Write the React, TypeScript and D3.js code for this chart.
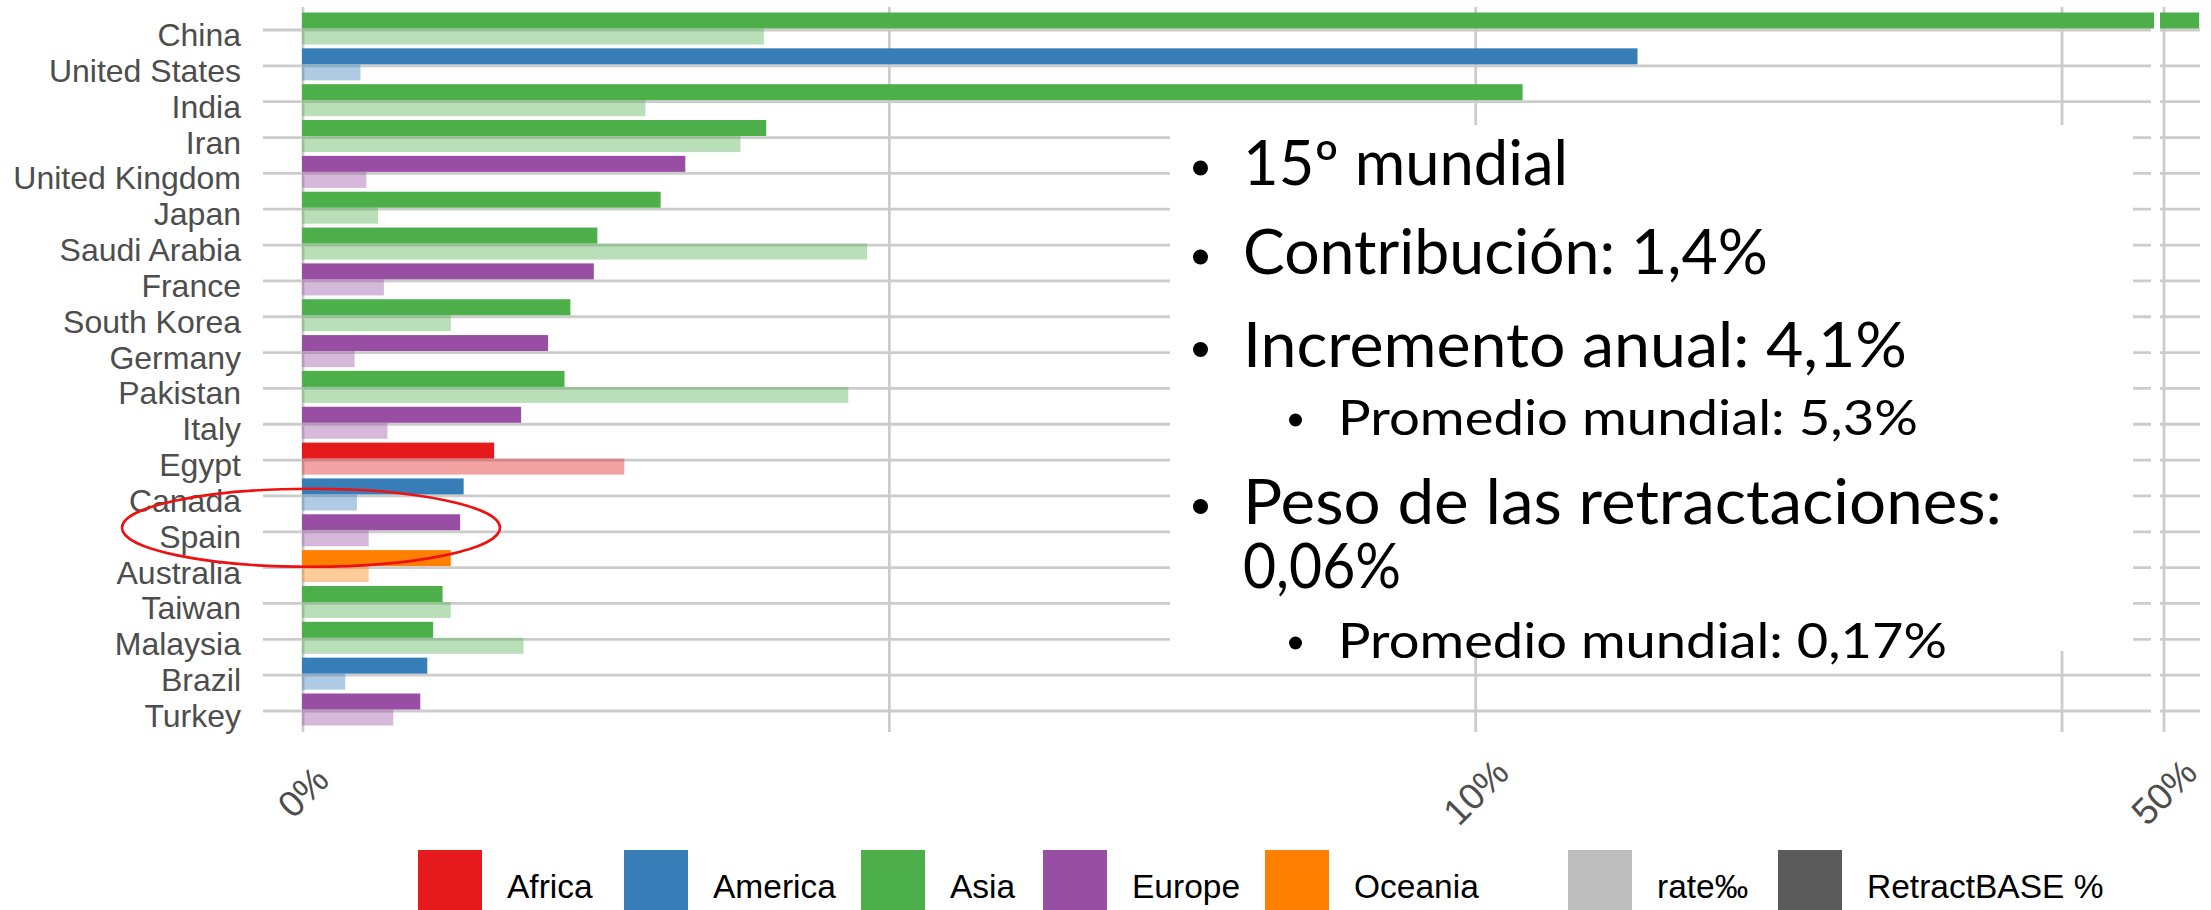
import { useEffect, useRef } from 'react';
import * as d3 from 'd3';

// countries, top to bottom
const countries = [
  'China', 'United States', 'India', 'Iran', 'United Kingdom', 'Japan', 'Saudi Arabia',
  'France', 'South Korea', 'Germany', 'Pakistan', 'Italy', 'Egypt', 'Canada', 'Spain',
  'Australia', 'Taiwan', 'Malaysia', 'Brazil', 'Turkey',
];
const continents = [
  'Asia', 'America', 'Asia', 'Asia', 'Europe', 'Asia', 'Asia',
  'Europe', 'Asia', 'Europe', 'Asia', 'Europe', 'Africa', 'America', 'Europe',
  'Oceania', 'Asia', 'Asia', 'America', 'Europe',
];
// RetractBASE % (dark bars)
const retractBase = [
  50.3, 11.38, 10.4, 3.95, 3.26, 3.05, 2.51,
  2.48, 2.28, 2.09, 2.23, 1.86, 1.63, 1.37, 1.34,
  1.26, 1.19, 1.11, 1.06, 1.0,
];
// rate‰ (light bars)
const ratePermil = [
  3.93, 0.49, 2.92, 3.73, 0.54, 0.64, 4.81,
  0.69, 1.26, 0.44, 4.65, 0.72, 2.74, 0.46, 0.56,
  0.56, 1.26, 1.88, 0.36, 0.77,
];
const majorTicks = [0, 10];
const minorTicks = [5, 15];
const brokenTick = 50;

const regionNames = ['Africa', 'America', 'Asia', 'Europe', 'Oceania'];
const regionColors = ['#E41A1C', '#377EB8', '#4DAF4A', '#984EA3', '#FF7F00'];
const measureNames = ['rate‰', 'RetractBASE %'];
const measureColors = ['#BDBDBD', '#5A5A5A'];

// bullet notes; a note may wrap onto several lines
const notes = [
  ['15º mundial'],
  ['Contribución: 1,4%'],
  ['Incremento anual: 4,1%'],
  ['Promedio mundial: 5,3%'],
  ['Peso de las retractaciones:', '0,06%'],
  ['Promedio mundial: 0,17%'],
];
const noteLevels = [0, 0, 0, 1, 0, 1];

// layout (pixels)
const noteBaselines = [[185], [274], [366.5], [435], [523.5, 588], [658]];
const noteWidths = [[325], [525], [664], [580], [759, 158], [609]];
const legendKeyX = [418, 624, 861, 1043, 1265];
const measureKeyX = [1568, 1778];

const App = () => {
  const ref = useRef<SVGSVGElement>(null);

  useEffect(() => {
    const svg = d3.select(ref.current);
    svg.selectAll('*').remove();

    const grid = '#CCCCCC';
    const x = d3.scaleLinear().domain([0, 10]).range([303, 1475.7]);
    const pxPerUnit = x(1) - x(0);
    const xBroken = d3.scaleLinear().domain([50, 51]).range([2164, 2164 + pxPerUnit]);
    const y = d3.scalePoint<string>().domain(countries).range([30, 711]);
    const color = d3.scaleOrdinal<string, string>().domain(regionNames).range(regionColors);

    const rows = countries.map((c, i) => ({
      country: c,
      region: continents[i],
      retract: retractBase[i],
      rate: ratePermil[i],
    }));

    const defs = svg.append('defs');
    defs.append('clipPath').attr('id', 'clip-left')
      .append('rect').attr('x', 263).attr('y', 0).attr('width', 2154 - 263).attr('height', 740);
    defs.append('clipPath').attr('id', 'clip-right')
      .append('rect').attr('x', 2160).attr('y', 0).attr('width', 40).attr('height', 740);

    svg.append('rect').attr('width', 2211).attr('height', 910).attr('fill', '#fff');

    // horizontal grid lines (broken axis leaves a small gap)
    const hGrid = svg.append('g').attr('stroke', grid).attr('stroke-width', 2.8);
    rows.forEach((d) => {
      hGrid.append('line').attr('x1', 263).attr('x2', 2151).attr('y1', y(d.country)!).attr('y2', y(d.country)!);
      hGrid.append('line').attr('x1', 2160).attr('x2', 2200).attr('y1', y(d.country)!).attr('y2', y(d.country)!);
    });
    // vertical grid lines
    const vGrid = svg.append('g').attr('stroke', grid).attr('stroke-width', 2.8);
    [...majorTicks, ...minorTicks].forEach((t) => {
      vGrid.append('line').attr('x1', x(t)).attr('x2', x(t)).attr('y1', 7).attr('y2', 732);
    });
    vGrid.append('line').attr('x1', xBroken(brokenTick)).attr('x2', xBroken(brokenTick)).attr('y1', 7).attr('y2', 732);

    const barH = 16;
    const left = svg.append('g').attr('clip-path', 'url(#clip-left)');
    left.selectAll('rect.retract')
      .data(rows)
      .enter()
      .append('rect')
      .attr('class', 'retract')
      .attr('x', x(0) - 1)
      .attr('y', (d) => y(d.country)! - 1.5 - barH)
      .attr('width', (d) => x(d.retract) - x(0) + 1)
      .attr('height', barH)
      .attr('fill', (d) => color(d.region));
    left.selectAll('rect.rate')
      .data(rows)
      .enter()
      .append('rect')
      .attr('class', 'rate')
      .attr('x', x(0) - 1)
      .attr('y', (d) => y(d.country)! - 1.5)
      .attr('width', (d) => x(d.rate) - x(0) + 1)
      .attr('height', barH)
      .attr('fill', (d) => color(d.region))
      .attr('fill-opacity', 0.4);

    // the part of very long bars beyond the axis break
    svg.append('g').attr('clip-path', 'url(#clip-right)')
      .selectAll('rect')
      .data(rows.filter((d) => d.retract > brokenTick))
      .enter()
      .append('rect')
      .attr('x', 2160)
      .attr('y', (d) => y(d.country)! - 1.5 - barH)
      .attr('width', (d) => xBroken(d.retract) - 2160)
      .attr('height', barH)
      .attr('fill', (d) => color(d.region));

    // y axis labels
    svg.append('g')
      .selectAll('text')
      .data(rows)
      .enter()
      .append('text')
      .attr('x', 241)
      .attr('y', (d) => y(d.country)! + 16)
      .attr('text-anchor', 'end')
      .style('font-family', '"Liberation Sans", Arial, sans-serif')
      .style('font-size', '32px')
      .attr('fill', '#4D4D4D')
      .text((d) => d.country);

    // x tick labels, rotated
    const pct = (v: number) => d3.format('.0%')(v / 100);
    const tickPos = [...majorTicks.map((t) => ({ t, px: x(t) })), { t: brokenTick, px: xBroken(brokenTick) }];
    svg.append('g')
      .selectAll('text')
      .data(tickPos)
      .enter()
      .append('text')
      .attr('transform', (d) => `translate(${d.px},792) rotate(-45)`)
      .attr('text-anchor', 'middle')
      .attr('dy', '0.35em')
      .style('font-family', '"Liberation Sans", Arial, sans-serif')
      .style('font-size', '37px')
      .attr('fill', '#4D4D4D')
      .text((d) => pct(d.t));

    // legend
    const legend = svg.append('g')
      .style('font-family', '"Liberation Sans", Arial, sans-serif')
      .style('font-size', '33.5px');
    const legendItems = [
      ...regionNames.map((n, i) => ({ name: n, fill: regionColors[i], kx: legendKeyX[i] })),
      ...measureNames.map((n, i) => ({ name: n, fill: measureColors[i], kx: measureKeyX[i] })),
    ];
    legendItems.forEach((d) => {
      legend.append('rect').attr('x', d.kx).attr('y', 850).attr('width', 64).attr('height', 64).attr('fill', d.fill);
      legend.append('text').attr('x', d.kx + 89).attr('y', 898).attr('fill', '#000').text(d.name);
    });

    // annotation box pasted over the chart
    svg.append('rect').attr('x', 1170).attr('y', 125).attr('width', 963).attr('height', 526).attr('fill', '#fff');
    const note = svg.append('g').style('font-family', 'Lato, "Open Sans", sans-serif').attr('fill', '#000');
    notes.forEach((lines, i) => {
      const sub = noteLevels[i] === 1;
      const size = sub ? 48 : 61;
      const tx = sub ? 1338 : 1243;
      const bases = noteBaselines[i];
      note.append('circle')
        .attr('cx', sub ? 1295.5 : 1200.5)
        .attr('cy', bases[0] - (sub ? 15 : 17))
        .attr('r', sub ? 6.5 : 7.5);
      const t = note.append('text').style('font-size', `${size}px`);
      lines.forEach((ln, j) => {
        t.append('tspan')
          .attr('x', tx)
          .attr('y', bases[j])
          .attr('textLength', noteWidths[i][j])
          .attr('lengthAdjust', 'spacingAndGlyphs')
          .text(ln);
      });
    });

    // red ellipse highlighting Spain
    svg.append('ellipse')
      .attr('cx', 311)
      .attr('cy', y('Spain')! - 4)
      .attr('rx', 189)
      .attr('ry', 39)
      .attr('fill', 'none')
      .attr('stroke', '#EE1111')
      .attr('stroke-width', 2.6);
  }, []);

  return (
    <div style={{ position: 'absolute', left: 0, top: 0, width: 2211, height: 910, overflow: 'hidden' }}>
      <svg ref={ref} width={2211} height={910} style={{ display: 'block' }} />
    </div>
  );
};

export default App;
